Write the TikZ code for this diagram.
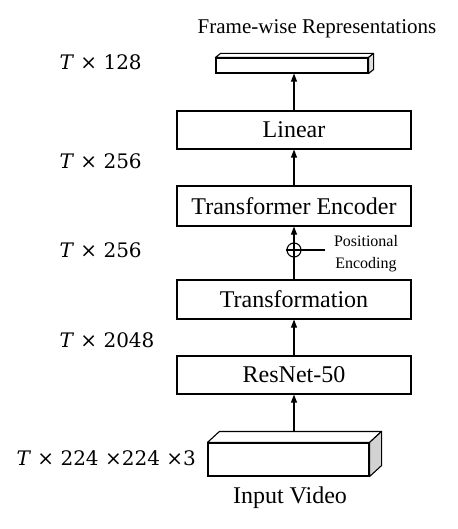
\documentclass[tikz,border=0pt]{standalone}
\usepackage{fontspec}
\setmainfont{Liberation Serif}
\newfontfamily\dimfont{DejaVu Serif}
\usetikzlibrary{arrows.meta,calc}
\begin{document}
\begin{tikzpicture}[x=1pt,y=-1pt,
  blk/.style={draw,line width=1.1pt,minimum width=234pt,inner sep=0pt,font=\fontsize{24}{26}\selectfont},
  arr/.style={line width=1.1pt,-{Triangle[width=6pt,length=8pt]}},
  dimlbl/.style={font=\dimfont\fontsize{20}{22}\selectfont,anchor=west},
  face/.style={draw,line width=1.1pt,line join=round}]
\useasboundingbox (0,0) rectangle (457,529);
% top bar
\node[draw,line width=1.1pt,minimum width=152pt,minimum height=15pt,inner sep=0pt] (bar) at (292,65.5) {};
\draw[face,fill=white] (bar.north west) -- ++(5,-4) -- ($(bar.north east)+(5,-4)$) -- (bar.north east) -- cycle;
\draw[face,fill=gray!25] (bar.north east) -- ++(5,-4) -- ($(bar.south east)+(5,-4)$) -- (bar.south east) -- cycle;
\node[font=\fontsize{21}{23}\selectfont] (title) at (317,29) {Frame-wise Representations};
% blocks
\node[blk,minimum height=38pt] (lin) at (294,130) {Linear};
\node[blk,minimum height=40pt] (te) at (294,206) {Transformer Encoder};
\node[blk,minimum height=39pt] (tr) at (294,299.5) {Transformation};
\node[blk,minimum height=38pt] (rn) at (294,375) {ResNet-50};
% input video
\node[draw,line width=1.1pt,minimum width=161pt,minimum height=33pt,inner sep=0pt] (vid) at (288.5,459.5) {};
\draw[face,fill=white] (vid.north west) -- ++(12,-11) -- ($(vid.north east)+(12,-11)$) -- (vid.north east) -- cycle;
\draw[face,fill=gray!35] (vid.north east) -- ++(12,-11) -- ($(vid.south east)+(12,-11)$) -- (vid.south east) -- cycle;
\coordinate (vidtop) at (294,432);
\node[font=\fontsize{24}{26}\selectfont] (inv) at (290,498) {Input Video};
% positional encoding
\node[draw,circle,line width=1.1pt,minimum size=14pt,inner sep=0pt] (pe) at (294,250) {};
\draw[line width=1.1pt] (pe.north) -- (pe.south) (pe.west) -- (pe.east);
\coordinate (peend) at (325,250);
\draw[line width=1.1pt] (pe.east) -- (peend);
\node[font=\fontsize{16}{22}\selectfont,align=center] (pel) at (366,254) {Positional\\Encoding};
% arrows
\draw[arr] (vidtop) -- (rn.south);
\draw[arr] (rn.north) -- (tr.south);
\draw[line width=1.1pt] (tr.north) -- (pe.south);
\draw[arr] (pe.north) -- (te.south);
\draw[arr] (te.north) -- (lin.south);
\draw[arr] (lin.north) -- (lin.north |- bar.south);
% dimension labels
\node[dimlbl] (d1) at (56,62) {\textit{T} × 128};
\node[dimlbl] (d2) at (56,161) {\textit{T} × 256};
\node[dimlbl] (d3) at (56,250) {\textit{T} × 256};
\node[dimlbl] (d4) at (56,340) {\textit{T} × 2048};
\node[dimlbl] (d5) at (13,458) {\textit{T} × 224 ×224 ×3};
\end{tikzpicture}
\end{document}
